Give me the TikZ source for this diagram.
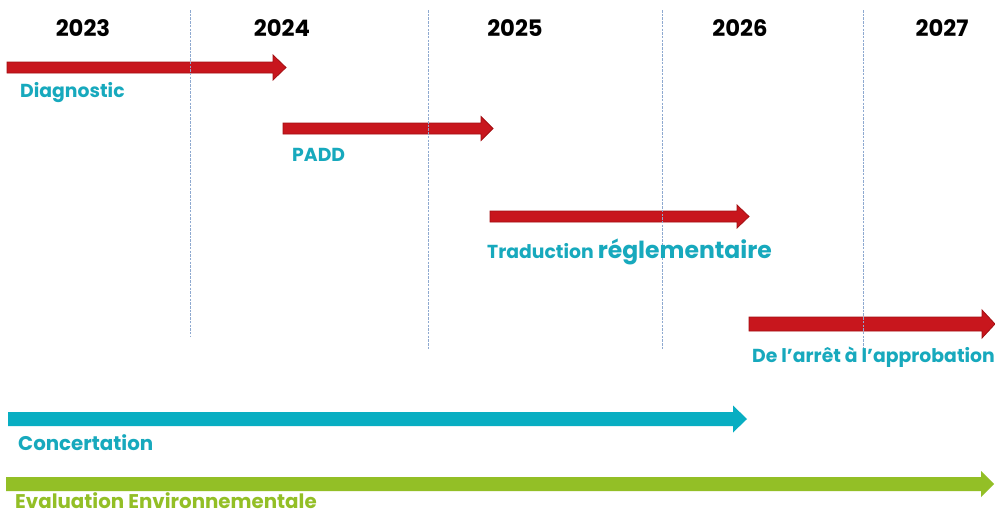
\documentclass[tikz,border=0pt]{standalone}
\usepackage{fontspec}
\setmainfont{Poppins}
\definecolor{redA}{HTML}{C8161D}
\definecolor{redB}{HTML}{A30F12}
\definecolor{tealA}{HTML}{08AEC2}
\definecolor{tealT}{HTML}{17A9BD}
\definecolor{greenA}{HTML}{93BF26}
\definecolor{gridC}{HTML}{8EA9D0}
\newcommand{\tlarrow}[7]{%
  \path[#7] (#1,#4-#5/2) -- (#2,#4-#5/2) -- (#2,#4-#6/2) -- (#3,#4) -- (#2,#4+#6/2) -- (#2,#4+#5/2) -- (#1,#4+#5/2) -- cycle;}
\begin{document}
\begin{tikzpicture}[x=1pt,y=-1pt,
  year/.style={font=\fontsize{22.7}{22.7}\selectfont\bfseries, text=black, anchor=base, inner sep=0},
  lbl/.style={font=\fontsize{18.8}{18.8}\selectfont\bfseries, text=tealT, anchor=base west, inner sep=0},
  lblb/.style={lbl, font=\fontsize{19.8}{19.8}\selectfont\bfseries},
  redarrow/.style={fill=redA, draw=redB, line width=0.8pt},
  grid/.style={draw=gridC, line width=0.8pt, dash pattern=on 2.5pt off 1.2pt}]
\useasboundingbox[fill=white] (0,0) rectangle (995,512);
% years
\node[year] (y23) at (83,36) {2023};
\node[year] (y24) at (282,36) {2024};
\node[year] (y25) at (515,36) {2025};
\node[year] (y26) at (740,36) {2026};
\node[year] (y27) at (942,36) {2027};
% red arrows
\tlarrow{7}{273}{286}{67.5}{11}{25}{redarrow}
\tlarrow{283}{481}{493}{128.5}{11}{24}{redarrow}
\tlarrow{490}{737}{749}{216.5}{11}{23}{redarrow}
\tlarrow{749}{982}{995}{324}{14}{28}{redarrow}
% teal and green arrows
\tlarrow{8}{733}{747}{419}{14}{27}{fill=tealA}
\tlarrow{6}{981}{994}{484}{14}{26}{fill=greenA}
% grid lines
\coordinate (g1t) at (190,10); \coordinate (g1b) at (190,337);
\coordinate (g2t) at (428,10); \coordinate (g2b) at (428,350);
\coordinate (g3t) at (662,10); \coordinate (g3b) at (662,350);
\coordinate (g4t) at (863,10); \coordinate (g4b) at (863,357);
\draw[grid] (g1t) -- (g1b);
\draw[grid] (g2t) -- (g2b);
\draw[grid] (g3t) -- (g3b);
\draw[grid] (g4t) -- (g4b);
% labels
\node[lbl] (l1) at (20,97) {Diagnostic};
\node[lbl] (l2) at (292,161) {PADD};
\node[lbl] (l3) at (487,258) {Traduction {\fontsize{23.5}{23.5}\selectfont réglementaire}};
\node[lbl] (l4) at (752,362) {De l’arrêt à l’approbation};
\node[lblb] (l5) at (18,450) {Concertation};
\node[lblb, text=greenA] (l6) at (15,508) {Evaluation Environnementale};
\end{tikzpicture}
\end{document}
